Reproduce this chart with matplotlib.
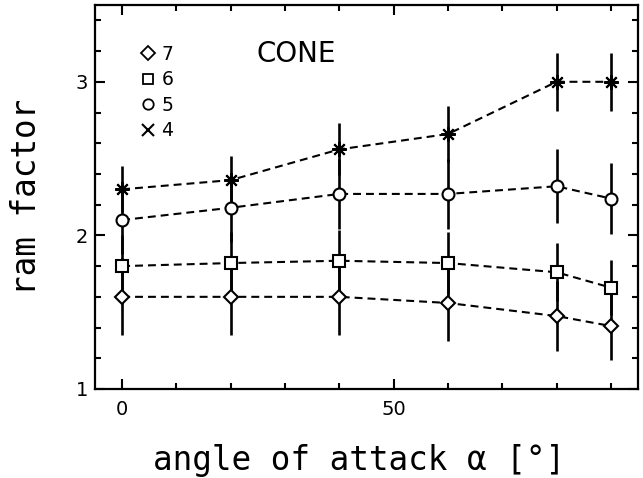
import matplotlib
matplotlib.use("Agg")
import matplotlib.pyplot as plt
from matplotlib.lines import Line2D
from matplotlib.ticker import MultipleLocator, FixedLocator

# ---- data ----
angles = [0, 20, 40, 60, 80, 90]
series_labels = ["7", "6", "5", "4"]
ram7 = [1.60, 1.60, 1.60, 1.56, 1.475, 1.41]
err7 = [0.25, 0.25, 0.25, 0.25, 0.23, 0.22]
ram6 = [1.80, 1.82, 1.835, 1.82, 1.76, 1.66]
err6 = [0.20, 0.20, 0.20, 0.20, 0.19, 0.18]
ram5 = [2.10, 2.18, 2.27, 2.27, 2.32, 2.24]
err5 = [0.22, 0.22, 0.23, 0.23, 0.24, 0.23]
ram4 = [2.30, 2.36, 2.56, 2.66, 3.00, 3.00]
err4 = [0.15, 0.16, 0.17, 0.18, 0.19, 0.19]
yticks = [1, 2, 3]
xticks = [0, 50]

fig = plt.figure(figsize=(6.43, 4.78), dpi=100)
ax = fig.add_axes([95/643, 1-389/478, 543/643, 384/478])

mono = "DejaVu Sans Mono"
ms_list = [("D", 7.2), ("s", 8.2), ("o", 8.6), ((8, 2, 0), 10.5)]
data = [(ram7, err7), (ram6, err6), (ram5, err5), (ram4, err4)]

for (vals, errs) in data:
    ax.errorbar(angles, vals, yerr=errs, fmt="none", ecolor="black",
                elinewidth=1.9, capsize=0, zorder=2)
for (vals, errs), (mk, ms) in zip(data, ms_list):
    ax.plot(angles, vals, color="black", lw=1.5, dashes=(3.8, 2.4), zorder=3)
    ax.plot(angles, vals, linestyle="none", marker=mk, ms=ms,
            mfc="white" if mk != (8, 2, 0) else "black",
            mec="black", mew=1.5, zorder=4)

ax.set_xlim(-5, 95)
ax.set_ylim(1, 3.5)
ax.xaxis.set_major_locator(FixedLocator(xticks))
ax.xaxis.set_minor_locator(MultipleLocator(10))
ax.yaxis.set_major_locator(FixedLocator(yticks))
ax.yaxis.set_minor_locator(MultipleLocator(0.2))
ax.set_xticklabels([str(t) for t in xticks])
ax.set_yticklabels([str(t) for t in yticks])
ax.tick_params(which="both", direction="in", top=True, right=True,
               width=1.5, colors="black", labelsize=14)
ax.tick_params(which="major", length=7.5)
ax.tick_params(which="minor", length=4)
ax.tick_params(axis="x", pad=8)
ax.tick_params(axis="y", pad=5)
for s in ax.spines.values():
    s.set_linewidth(1.6)

ax.set_xlabel("angle of attack α [°]", fontsize=23.5, family=mono)
ax.xaxis.label.set_va("baseline")
ax.xaxis.set_label_coords((359-95)/543, (389-470)/384)
ax.set_ylabel("ram factor", fontsize=23.5, family=mono)
ax.yaxis.set_label_coords((43-95)/543, 0.5)

handles = [
    Line2D([], [], ls="none", marker="D", ms=7.5, mfc="white", mec="black", mew=1.3),
    Line2D([], [], ls="none", marker="s", ms=7.5, mfc="white", mec="black", mew=1.3),
    Line2D([], [], ls="none", marker="o", ms=7.5, mfc="white", mec="black", mew=1.3),
    Line2D([], [], ls="none", marker="x", ms=8, mfc="white", mec="black", mew=1.5),
]
ax.legend(handles, series_labels, loc="upper left",
          bbox_to_anchor=((140-95)/543, 1-(45-5)/384),
          frameon=False, handlelength=0.8, handletextpad=0.35,
          labelspacing=0.34, borderaxespad=0, borderpad=0,
          prop={"size": 13.5})
ax.text((257-95)/543, 1-(54-5)/384, "CONE", transform=ax.transAxes,
        fontsize=20, va="center", ha="left")

fig.savefig("out.png", dpi=100)
